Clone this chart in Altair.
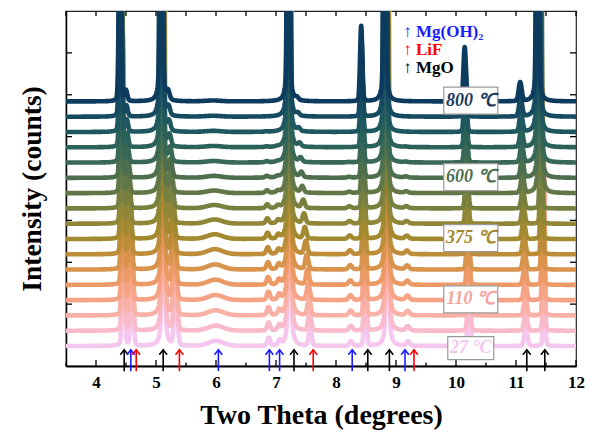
import numpy as np
import pandas as pd
import altair as alt

# ---------------- data ----------------
# curves from bottom (27 °C) to top (800 °C)
curve_labels = ["27 °C", "", "", "110 ℃", "", "", "", "375 ℃", "", "", "", "600 ℃", "", "", "", "", "800 ℃"]
baseline = [0.0, 3.65, 7.3, 10.95, 14.6, 18.25, 21.9, 25.55, 29.2, 32.85, 36.5, 40.15, 43.8, 47.45, 51.1, 54.75, 58.4]
curve_colors = ["#f5c6ee", "#f9bbca", "#f9b0a6", "#f5a384", "#eb9a66", "#d8934c", "#bd8d3a", "#a3892f",
                "#8f8637", "#788040", "#627748", "#4e6f4e", "#3a6856", "#2a6159", "#1e5760", "#154a61", "#0d3b5e"]
# fraction of the 800 °C peak shift reached by each curve
shift_frac = [0, 0.04, 0.09, 0.14, 0.2, 0.26, 0.33, 0.4, 0.47, 0.53, 0.6, 0.67, 0.73, 0.8, 0.87, 0.93, 1.0]

# peaks: position at 27 °C, shift at 800 °C, half width, heights per curve
peak_pos = [4.457, 4.60, 5.124, 5.33, 6.0, 6.88, 7.06, 7.228, 7.57, 8.25, 8.49, 8.86, 9.20, 10.22, 11.165, 11.47]
peak_shift800 = [-0.057, -0.10, -0.038, -0.13, -0.05, -0.05, -0.05, -0.02, -0.22, -0.05, -0.07, -0.045, -0.05, -0.075, -0.095, -0.11]
peak_hwhm = [0.02, 0.025, 0.016, 0.03, 0.15, 0.03, 0.03, 0.016, 0.03, 0.035, 0.022, 0.016, 0.035, 0.025, 0.03, 0.016]
peak_heights = [
    [60] * 17,
    [20, 20, 20, 19, 18, 16, 14, 12, 10, 8, 6, 4.5, 3.8, 3.2, 2.8, 2.5, 2.5],
    [420] * 17,
    [15, 15, 15, 14, 13, 12, 11, 9.5, 8, 6.5, 5, 4, 3.2, 2.6, 2.2, 2, 2],
    [1.2, 1.2, 1.2, 1.2, 1.2, 1.2, 1.2, 1.1, 1.0, 0.8, 0.6, 0.45, 0.35, 0.3, 0.25, 0.2, 0.2],
    [1.9, 1.9, 1.9, 1.9, 1.8, 1.7, 1.6, 1.4, 1.2, 0.9, 0.6, 0.4, 0.25, 0.15, 0.1, 0, 0],
    [1.2, 1.2, 1.2, 1.2, 1.1, 1.1, 1.0, 0.9, 0.7, 0.55, 0.4, 0.25, 0.15, 0.1, 0, 0, 0],
    [420] * 17,
    [4.0, 4.0, 4.0, 3.8, 3.6, 3.4, 3.1, 2.7, 2.3, 1.9, 1.5, 1.2, 1.0, 0.8, 0.7, 0.6, 0.6],
    [1.1, 1.1, 1.1, 1.1, 1.0, 1.0, 0.9, 0.8, 0.6, 0.45, 0.3, 0.2, 0.1, 0, 0, 0, 0],
    [18] * 17,
    [400] * 17,
    [1.0, 1.0, 1.0, 1.0, 0.9, 0.9, 0.8, 0.7, 0.55, 0.45, 0.35, 0.25, 0.15, 0.1, 0, 0, 0],
    [13] * 17,
    [4.5] * 17,
    [40, 40, 40, 40, 40, 40, 40, 40, 40, 40, 400, 400, 400, 400, 400, 400, 400],
]
eta = 0.12

# reference arrows under the patterns
arrow_pos = [4.47, 4.58, 4.67, 5.12, 5.39, 6.04, 6.89, 7.06, 7.30, 7.62, 8.27, 8.53, 8.89, 9.15, 9.30, 11.18, 11.48]
arrow_phase = ["MgO", "Mg(OH)2", "LiF", "MgO", "LiF", "Mg(OH)2", "Mg(OH)2", "Mg(OH)2", "MgO", "LiF",
               "Mg(OH)2", "MgO", "MgO", "Mg(OH)2", "LiF", "MgO", "MgO"]
phase_color = {"Mg(OH)2": "#1a1aff", "LiF": "#ff0000", "MgO": "#000000"}

legend_text = ["↑ Mg(OH)₂", "↑ LiF", "↑ MgO"]
legend_color = ["#1a1aff", "#ff0000", "#000000"]
legend_y = [74.9, 70.6, 66.4]

label_colors = {0: "#f3c6f0", 3: "#f4a3a0", 7: "#a3892f", 11: "#4f6e4f", 16: "#1b3a5c"}

x_ticks_major = [4, 5, 6, 7, 8, 9, 10, 11, 12]
x_ticks_minor = [3.5, 4.5, 5.5, 6.5, 7.5, 8.5, 9.5, 10.5, 11.5]
y_ticks = [0, 10, 20, 30, 40, 50, 60, 70]

X0, X1 = 3.5, 12.0
Y0, Y1 = -4.77, 80.0

# ---------------- build tables ----------------
theta = np.round(np.arange(X0, X1 + 1e-9, 0.004), 3)
frames = []
for i in range(17):
    y = np.full_like(theta, baseline[i])
    for p in range(len(peak_pos)):
        pos = peak_pos[p] + shift_frac[i] * peak_shift800[p]
        d = (theta - pos) / peak_hwhm[p]
        h = peak_heights[p][i]
        y = y + h * (eta / (1 + d * d) + (1 - eta) * np.exp(-np.log(2) * d * d))
    y = np.minimum(y, 85)
    frames.append(pd.DataFrame({"t": theta, "v": np.round(y, 3), "c": i}))
curves = pd.concat(frames, ignore_index=True)

serif = "Liberation Serif, Times New Roman, Times, serif"
xscale = alt.Scale(domain=[X0, X1], nice=False, zero=False)
yscale = alt.Scale(domain=[Y0, Y1], nice=False, zero=False)
xaxis = alt.Axis(values=x_ticks_major, labelFont=serif, labelFontWeight="bold", labelFontSize=17,
                 labelColor="black", ticks=False, labelPadding=8, labelFlush=False,
                 domainWidth=2, domainColor="black", grid=False,
                 title="Two Theta (degrees)", titleFont=serif, titleFontSize=28,
                 titleFontWeight="bold", titleColor="black", titlePadding=11)
yaxis = alt.Axis(labels=False, ticks=False, domainWidth=1.5, domainColor="black", grid=False,
                 title="Intensity (counts)", titleFont=serif, titleFontSize=27.5,
                 titleFontWeight="bold", titleColor="black", titlePadding=20)

base = alt.Chart(curves)
layers = []
for i in range(17):
    layers.append(
        base.transform_filter(alt.datum.c == i)
        .mark_line(color=curve_colors[i], strokeWidth=4.6, clip=True, strokeJoin="round", strokeCap="round")
        .encode(x=alt.X("t:Q", scale=xscale, axis=xaxis), y=alt.Y("v:Q", scale=yscale, axis=yaxis))
    )

# inward ticks
tick_len_x = 6 / 4.19
vt = pd.DataFrame(
    [{"t": t, "y0": Y0, "y1": Y0 + tick_len_x} for t in x_ticks_major]
    + [{"t": t, "y0": Y0, "y1": Y0 + 0.85} for t in x_ticks_minor]
    + [{"t": t, "y0": Y1, "y1": Y1 - 1.2} for t in x_ticks_major + x_ticks_minor]
)
ticks_v = alt.Chart(vt).mark_rule(color="black", strokeWidth=1.3).encode(
    x=alt.X("t:Q", scale=xscale, axis=xaxis), y=alt.Y("y0:Q", scale=yscale, axis=yaxis), y2="y1:Q")
ht = pd.DataFrame(
    [{"v": v, "x0": X0, "x1": X0 + 0.1} for v in y_ticks]
    + [{"v": v, "x0": X1, "x1": X1 - 0.1} for v in y_ticks]
)
ticks_h = alt.Chart(ht).mark_rule(color="black", strokeWidth=1.3).encode(
    x=alt.X("x0:Q", scale=xscale, axis=xaxis), x2="x1:Q", y=alt.Y("v:Q", scale=yscale, axis=yaxis))

# arrows
arr = pd.DataFrame({"t": arrow_pos, "col": [phase_color[p] for p in arrow_phase]})
arr["tip"] = -0.9
arr["tail"] = -6.0
shafts = alt.Chart(arr).mark_rule(strokeWidth=1.6).encode(
    x=alt.X("t:Q", scale=xscale, axis=xaxis), y=alt.Y("tip:Q", scale=yscale, axis=yaxis), y2="tail:Q",
    color=alt.Color("col:N", scale=None))
heads = alt.Chart(arr).mark_point(shape="M-1,1.25L0,0L1,1.25", size=60, filled=False, strokeWidth=1.6,
                                  opacity=1).encode(
    x=alt.X("t:Q", scale=xscale, axis=xaxis), y=alt.Y("tip:Q", scale=yscale, axis=yaxis),
    color=alt.Color("col:N", scale=None))

# legend text
leg = pd.DataFrame({"t": [9.12] * 3, "v": legend_y, "txt": legend_text, "col": legend_color})
legend = alt.Chart(leg).mark_text(align="left", baseline="middle", font=serif, fontSize=17,
                                  fontWeight="bold").encode(
    x=alt.X("t:Q", scale=xscale, axis=xaxis), y=alt.Y("v:Q", scale=yscale, axis=yaxis),
    text="txt:N", color=alt.Color("col:N", scale=None))

# temperature labels with boxes
lab_rows = []
for i, txt in enumerate(curve_labels):
    if txt:
        lab_rows.append({"t": 10.246, "v": baseline[i] + (-0.5 if i == 0 else 0.2), "txt": txt,
                         "col": label_colors[i], "sz": 2116 if i == 0 else 2916})
labs = pd.DataFrame(lab_rows)
boxes = alt.Chart(labs).mark_point(shape="M-1,-0.5L1,-0.5L1,0.5L-1,0.5Z", filled=True, fill="white",
                                   stroke="#9a9a9a", strokeWidth=1.2, opacity=1, fillOpacity=1).encode(
    x=alt.X("t:Q", scale=xscale, axis=xaxis), y=alt.Y("v:Q", scale=yscale, axis=yaxis),
    size=alt.Size("sz:Q", scale=None))
texts = alt.Chart(labs).mark_text(align="center", baseline="middle", font=serif, fontSize=18,
                                  fontWeight="bold", fontStyle="italic").encode(
    x=alt.X("t:Q", scale=xscale, axis=xaxis), y=alt.Y("v:Q", scale=yscale, axis=yaxis),
    text="txt:N", color=alt.Color("col:N", scale=None))

chart = alt.layer(ticks_v, ticks_h, *layers, shafts, heads, legend, boxes, texts).properties(
    width=510, height=355,
    autosize=alt.AutoSizeParams(type="none"),
    padding={"left": 66, "top": 11, "right": 13, "bottom": 67},
    background="white",
).configure_view(stroke="#222222", strokeWidth=1.2).configure_axis(
    labelFont=serif, titleFont=serif
)

chart.save("out.html", embed_options={"renderer": "svg", "actions": False})
